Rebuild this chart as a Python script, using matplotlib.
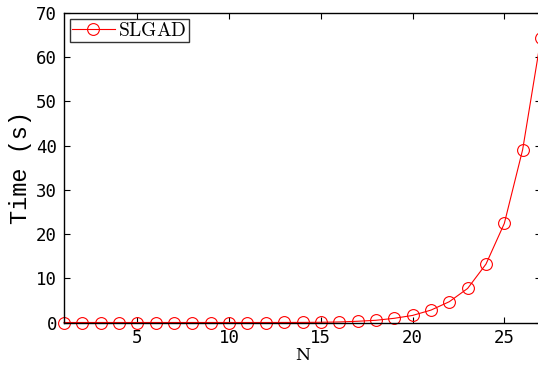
import matplotlib
matplotlib.use('Agg')
import matplotlib.pyplot as plt

# data
N = list(range(1, 28))
time_s = [0.0, 0.0, 0.0, 0.0, 0.0, 0.0, 0.0, 0.0, 0.0, 0.0,
          0.0, 0.0, 0.01, 0.02, 0.05, 0.12, 0.28, 0.5, 0.95, 1.6,
          2.8, 4.7, 7.7, 13.2, 22.4, 39.1, 64.4]
xticks = [5, 10, 15, 20, 25]
yticks = [0, 10, 20, 30, 40, 50, 60, 70]

plt.rcParams['mathtext.fontset'] = 'cm'

fig = plt.figure(figsize=(5.38, 3.68), dpi=100)
ax = fig.add_axes([64 / 538, 1 - 322.5 / 368, 477 / 538, (322.5 - 13) / 368])

ax.plot(N, time_s, color='red', lw=0.8, marker='o', markersize=8.5,
        markerfacecolor='none', markeredgewidth=0.8, label=r'$\mathrm{SLGAD}$',
        clip_on=False)

ax.set_xlim(1, 27)
ax.set_ylim(0, 70)
ax.set_xticks(xticks)
ax.set_yticks(yticks)
ax.tick_params(direction='in', top=True, right=True, length=4, width=0.8,
               labelsize=12.5, pad=5)
for lbl in ax.get_xticklabels() + ax.get_yticklabels():
    lbl.set_family('DejaVu Sans Mono')
for s in ax.spines.values():
    s.set_linewidth(1.0)

ax.set_xlabel('N', family='DejaVu Serif', fontsize=12.5, labelpad=0)
ax.set_ylabel('Time (s)', family='Liberation Mono', fontsize=17, labelpad=3)

leg = ax.legend(loc='upper left', fontsize=14, frameon=True, fancybox=False,
                borderpad=0.1, handlelength=2.2, handletextpad=0.2,
                borderaxespad=0.3)
leg.get_frame().set_edgecolor('black')
leg.get_frame().set_linewidth(1.0)

fig.savefig('out.png', dpi=100)
